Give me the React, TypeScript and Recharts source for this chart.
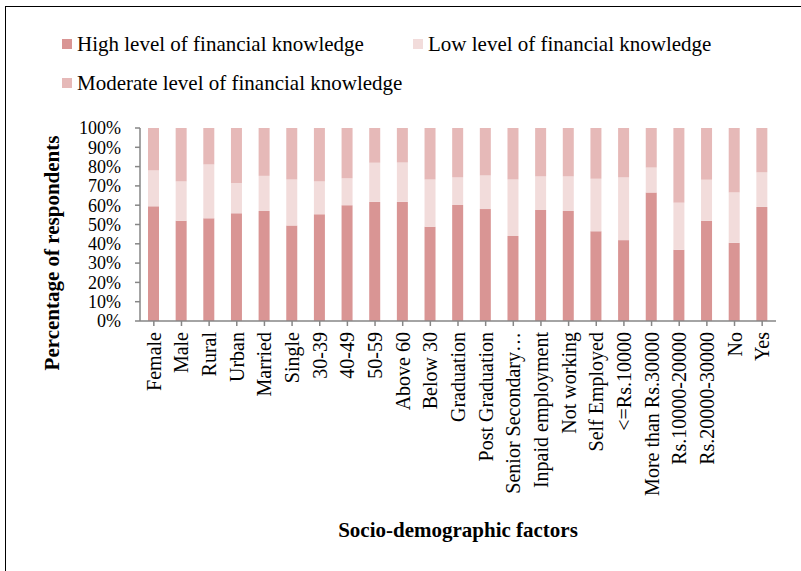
import { BarChart, Bar, XAxis, YAxis, Text } from "recharts";

const factors = [
  "Female", "Male", "Rural", "Urban", "Married", "Single", "30-39", "40-49", "50-59",
  "Above 60", "Below 30", "Graduation", "Post Graduation", "Senior Secondary…",
  "Inpaid employment", "Not working", "Self Employed", "<=Rs.10000",
  "More than Rs.30000", "Rs.10000-20000", "Rs.20000-30000", "No", "Yes",
];
const high = [59.4, 51.9, 53.2, 55.8, 57, 49.5, 55.3, 60, 61.7, 61.7, 48.8, 60.1, 58, 44, 57.5, 57, 46.5, 41.9, 66.6, 36.9, 51.9, 40.5, 59.1];
const low = [18.6, 20.4, 27.9, 15.7, 18.2, 23.8, 17, 13.9, 20.3, 20.4, 24.5, 14.3, 17.4, 29.3, 17.4, 17.9, 27.2, 32.5, 12.9, 24.4, 21.3, 26.1, 17.9];
const moderate = [22, 27.7, 18.9, 28.5, 24.8, 26.7, 27.7, 26.1, 18, 17.9, 26.7, 25.6, 24.6, 26.7, 25.1, 25.1, 26.3, 25.6, 20.5, 38.7, 26.8, 33.4, 23];
const yTicks = [0, 10, 20, 30, 40, 50, 60, 70, 80, 90, 100];

const data = factors.map((f, i) => ({ factor: f, high: high[i], low: low[i], moderate: moderate[i] }));

const font = "'Liberation Serif', 'Times New Roman', serif";
const axisGrey = "#868686";

const XTick = (props: any) => {
  const { x, y, payload } = props;
  return (
    <text
      x={0}
      y={0}
      dy="0.35em"
      textAnchor="end"
      fontFamily={font}
      fontSize={20}
      fill="#000"
      transform={`translate(${x},${y + 4}) rotate(-90)`}
    >
      {payload.value}
    </text>
  );
};

const legendItems = [
  { label: "High level of financial knowledge", color: "#d99594", left: 62, top: 44 },
  { label: "Low level of financial knowledge", color: "#f2dcdb", left: 413, top: 44 },
  { label: "Moderate level of financial knowledge", color: "#e6b9b8", left: 62, top: 83 },
];

export default function App() {
  return (
    <div style={{ position: "absolute", left: 0, top: 0, width: 801, height: 571, background: "#fff", fontFamily: font }}>
      <div style={{ position: "absolute", left: 5, top: 6, width: 796, height: 565, borderLeft: "1.5px solid #000", borderTop: "1.5px solid #000" }} />
      {legendItems.map((it) => (
        <div key={it.label} style={{ position: "absolute", left: it.left, top: it.top - 12, height: 24, display: "flex", alignItems: "center", fontSize: 21, color: "#000", whiteSpace: "nowrap" }}>
          <span style={{ display: "inline-block", width: 10, height: 10, background: it.color, marginRight: 5 }} />
          {it.label}
        </div>
      ))}
      <BarChart
        width={801}
        height={571}
        data={data}
        margin={{ top: 128, right: 25, left: 0, bottom: 0 }}
        barSize={11}
        style={{ position: "absolute", left: 0, top: 0 }}
      >
        <XAxis
          dataKey="factor"
          interval={0}
          height={250}
          tick={<XTick />}
          tickSize={5}
          stroke={axisGrey}
          strokeWidth={1.5}
          tickLine={{ stroke: axisGrey, strokeWidth: 1.5 }}
        />
        <YAxis
          type="number"
          domain={[0, 100]}
          ticks={yTicks}
          interval={0}
          width={140}
          tickSize={5}
          tickMargin={14}
          tickFormatter={(v) => `${v}%`}
          tick={{ fontFamily: font, fontSize: 18, fill: "#000" }}
          stroke={axisGrey}
          strokeWidth={1.5}
          tickLine={{ stroke: axisGrey, strokeWidth: 1.5 }}
        />
        <Bar dataKey="high" stackId="a" fill="#d99594" isAnimationActive={false} />
        <Bar dataKey="low" stackId="a" fill="#f2dcdb" isAnimationActive={false} />
        <Bar dataKey="moderate" stackId="a" fill="#e6b9b8" isAnimationActive={false} />
        <Text x={458} y={530} textAnchor="middle" verticalAnchor="middle" fontFamily={font} fontSize={21} fontWeight="bold" fill="#000">
          Socio-demographic factors
        </Text>
        <Text x={52} y={253} textAnchor="middle" verticalAnchor="middle" angle={-90} fontFamily={font} fontSize={21} fontWeight="bold" fill="#000">
          Percentage of respondents
        </Text>
      </BarChart>
    </div>
  );
}
